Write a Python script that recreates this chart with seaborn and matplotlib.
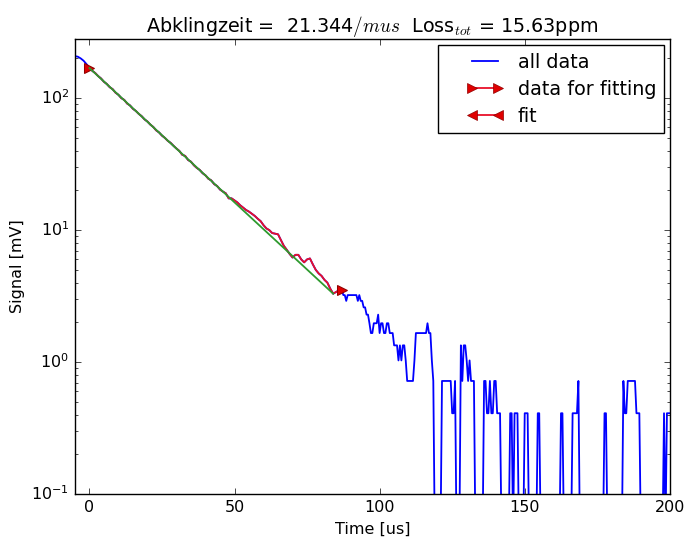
import numpy as np
import matplotlib
matplotlib.use("Agg")
import matplotlib.pyplot as plt
from matplotlib.lines import Line2D
from matplotlib.legend_handler import HandlerLine2D
import seaborn as sns

# ringdown trace, 1 us samples from -5 to 87 us
t_head = np.arange(-5, 88, 1.0)
sig_head = [208, 206, 200, 192, 181,
            170,
            161, 155, 147, 141, 133, 128, 121, 117, 110, 106,
            100, 97, 91, 88, 83, 80, 76, 73, 69, 66.5,
            63, 60.5, 57, 55, 52, 50, 47.5, 45.8, 43.5, 41.5,
            39.8, 37.2, 36.5, 34.0, 33.0, 31.0, 29.6, 28.6, 27.0, 26.0,
            24.5, 23.8, 22.3, 21.6, 20.3, 19.6, 19.0, 17.4, 17.4, 16.8,
            16.2, 15.4, 14.8, 14.2, 13.8, 13.3, 12.8, 12.2, 11.7, 10.9,
            10.3, 10.0, 9.5, 9.4, 9.3, 8.4, 7.6, 7.1, 6.6, 6.2,
            6.5, 6.5, 6.0, 5.7, 6.0, 6.1, 5.5, 5.0, 4.7, 4.5,
            4.2, 4.0, 3.6, 3.3, 3.4, 3.5, 3.5]

# tail, 0.5 us samples from 87.5 to 200 us (0.05 = below range / zero)
t_tail = np.arange(87.5, 200.5, 0.5)
sig_tail = [3.22, 3.22, 2.91, 3.22, 3.22, 3.22, 3.22, 3.22, 3.22, 3.22,
            2.91, 3.22, 2.91, 2.91, 2.60, 2.60, 2.29, 2.29, 1.97, 1.66,
            1.66, 1.97, 1.97, 1.97, 2.29, 1.66, 1.97, 1.97, 1.66, 1.66,
            1.97, 1.97, 1.66, 1.66, 1.66, 1.34, 1.34, 1.34, 1.03, 1.34,
            1.03, 1.34, 1.34, 1.03, 0.72, 0.72, 0.72, 0.72, 0.72, 1.03,
            1.66, 1.66, 1.66, 1.66, 1.66, 1.66, 1.66, 1.66, 1.97, 1.66,
            1.66, 1.03, 0.72, 0.05, 0.05, 0.05, 0.05, 0.05, 0.72, 0.72,
            0.72, 0.72, 0.72, 0.72, 0.72, 0.41, 0.41, 0.72, 0.05, 0.05,
            0.05, 1.34, 0.72, 1.34, 1.34, 1.03, 0.72, 1.03, 0.72, 0.72,
            0.72, 0.05, 0.05, 0.05, 0.05, 0.05, 0.05, 0.72, 0.72, 0.41,
            0.41, 0.72, 0.41, 0.41, 0.72, 0.72, 0.41, 0.41, 0.41, 0.05,
            0.05, 0.05, 0.05, 0.05, 0.05, 0.41, 0.41, 0.05, 0.41, 0.41,
            0.41, 0.05, 0.05, 0.05, 0.05, 0.41, 0.41, 0.41, 0.05, 0.05,
            0.05, 0.05, 0.05, 0.05, 0.41, 0.41, 0.05, 0.05, 0.05, 0.05,
            0.05, 0.05, 0.05, 0.05, 0.05, 0.05, 0.05, 0.05, 0.05, 0.05,
            0.41, 0.41, 0.05, 0.05, 0.05, 0.05, 0.05, 0.05, 0.41, 0.41,
            0.41, 0.41, 0.72, 0.05, 0.05, 0.05, 0.05, 0.05, 0.05, 0.05,
            0.05, 0.05, 0.05, 0.05, 0.05, 0.05, 0.05, 0.05, 0.05, 0.05,
            0.41, 0.41, 0.05, 0.05, 0.05, 0.05, 0.05, 0.05, 0.05, 0.05,
            0.05, 0.05, 0.05, 0.72, 0.41, 0.41, 0.72, 0.72, 0.72, 0.72,
            0.72, 0.72, 0.41, 0.41, 0.41, 0.05, 0.05, 0.05, 0.05, 0.05,
            0.05, 0.05, 0.05, 0.05, 0.05, 0.05, 0.05, 0.05, 0.05, 0.05,
            0.05, 0.41, 0.05, 0.41, 0.41, 0.41]

# fitting window (us) and exponential fit, straight line on log axis
fit_start, fit_stop = 0, 87
fit_t = [0, 84]
fit_sig = [169, 3.3]

title = r"Abklingzeit =  21.344$/mus$  Loss$_{tot}$ = 15.63ppm"


class InsetHandler(HandlerLine2D):
    # old-style legend: empty space left of the handle line
    def create_artists(self, legend, orig_handle, xdescent, ydescent,
                       width, height, fontsize, trans):
        shift = 0.36 * width
        return super().create_artists(legend, orig_handle, xdescent - shift,
                                      ydescent, width - shift, height,
                                      fontsize, trans)


def main():
    plt.style.use("classic")
    plt.rcParams["font.size"] = 11.5
    plt.rcParams["mathtext.fontset"] = "cm"

    t_all = np.concatenate([t_head, t_tail])
    sig_all = np.array(sig_head + sig_tail)
    sel = (t_all >= fit_start) & (t_all <= fit_stop)

    fig = plt.figure(figsize=(6.87, 5.43), dpi=100)
    ax = fig.add_axes([0.109, 0.090, 0.866, 0.838])

    sns.lineplot(x=t_all, y=sig_all, ax=ax, color="b", lw=1.3,
                 estimator=None, sort=False)
    sns.lineplot(x=t_all[sel], y=sig_all[sel], ax=ax, color="#e8102a", lw=1.3,
                 estimator=None, sort=False, marker=">", markersize=7,
                 markerfacecolor="#e00000", markeredgecolor="#900000",
                 markevery=[0, int(sel.sum()) - 1])
    sns.lineplot(x=fit_t, y=fit_sig, ax=ax, color="#2e9a2e", lw=1.3,
                 estimator=None, sort=False)

    ax.set_yscale("log")
    ax.set_xlim(-5, 200)
    ax.set_ylim(0.1, 280)
    ax.set_xticks([0, 50, 100, 150, 200])
    ax.set_xlabel("Time [us]")
    ax.set_ylabel("Signal [mV]")
    ax.set_title(title)

    handles = [
        Line2D([], [], color="b", lw=1.3),
        Line2D([], [], color="#e8102a", lw=1.3, marker=">", markersize=7,
               markerfacecolor="#e00000", markeredgecolor="#900000"),
        Line2D([], [], color="#e8102a", lw=1.3, marker="<", markersize=7,
               markerfacecolor="#e00000", markeredgecolor="#900000"),
    ]
    ax.legend(handles, ["all data", "data for fitting", "fit"],
              loc="upper right", numpoints=2, fancybox=False,
              edgecolor="k", framealpha=1, borderaxespad=0.3,
              labelspacing=0.42, handlelength=3.0, handletextpad=0.75,
              handler_map={Line2D: InsetHandler()})

    fig.savefig("out.png", dpi=100)


if __name__ == "__main__":
    main()
